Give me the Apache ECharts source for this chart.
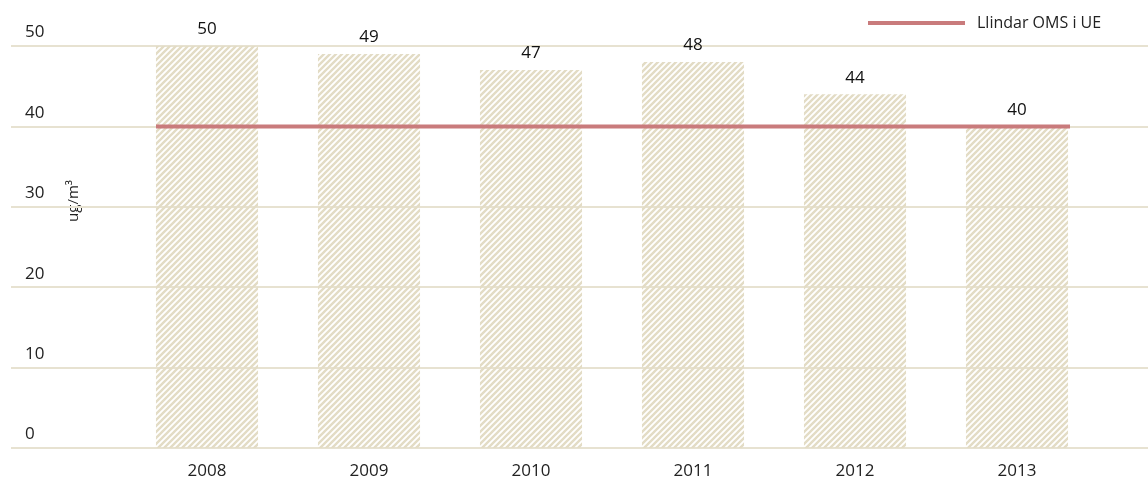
<!DOCTYPE html>
<html>
<head>
<meta charset="utf-8">
<script src="https://cdn.jsdelivr.net/npm/echarts@6/dist/echarts.min.js"></script>
<style>
  html, body { margin: 0; padding: 0; background: #fff; }
  #chart { width: 1148px; height: 482px; }
</style>
</head>
<body>
<div id="chart"></div>
<script>
// dades
var years = ['2008', '2009', '2010', '2011', '2012', '2013'];
var no2 = [50, 49, 47, 48, 44, 40];
var llindar = [40, 40, 40, 40, 40, 40];
var yTicks = [0, 10, 20, 30, 40, 50];

// ratllat dels bars
function hatch() {
  var n = 6;
  var c = document.createElement('canvas');
  c.width = n; c.height = n;
  var ctx = c.getContext('2d');
  ctx.strokeStyle = '#e3dcc5';
  ctx.lineWidth = 2.4;
  ctx.beginPath();
  ctx.moveTo(-1, n + 1); ctx.lineTo(n + 1, -1);
  ctx.moveTo(-1, 1); ctx.lineTo(1, -1);
  ctx.moveTo(n - 1, n + 1); ctx.lineTo(n + 1, n - 1);
  ctx.stroke();
  return c;
}

var font = '"Open Sans", sans-serif';
var myChart = echarts.init(document.getElementById('chart'));
myChart.setOption({
  animation: false,
  textStyle: { fontFamily: font },
  legend: {
    data: ['Llindar OMS i UE'],
    left: 868,
    top: 15,
    padding: 0,
    icon: 'rect',
    itemWidth: 97,
    itemHeight: 4,
    textStyle: { fontSize: 16, color: '#222', padding: [0, 0, 0, 7] }
  },
  grid: [
    { left: 11, right: 0, top: 46, bottom: 34 },
    { left: 126, right: 50, top: 46, bottom: 34 },
    { left: 156, right: 78, top: 46, bottom: 34 }
  ],
  xAxis: [
    { gridIndex: 0, type: 'value', show: false },
    {
      gridIndex: 1, type: 'category', data: years,
      axisLine: { show: false }, axisTick: { show: false },
      axisLabel: { color: '#222', fontSize: 17, margin: 15 }
    },
    { gridIndex: 2, type: 'category', data: years, boundaryGap: false, show: false }
  ],
  yAxis: [
    {
      gridIndex: 0, type: 'value', min: yTicks[0], max: yTicks[yTicks.length - 1], interval: 10,
      axisLine: { show: false }, axisTick: { show: false },
      splitLine: { lineStyle: { color: '#e7e2d1', width: 2 } },
      axisLabel: {
        inside: true, margin: 14, align: 'left', verticalAlign: 'bottom',
        color: '#222', fontSize: 17, padding: [0, 0, 5, 0]
      }
    },
    { gridIndex: 1, type: 'value', min: 0, max: 50, show: false },
    { gridIndex: 2, type: 'value', min: 0, max: 50, show: false }
  ],
  graphic: [{
    type: 'text',
    left: 66,
    top: 180,
    rotation: Math.PI / 2,
    style: { text: 'ug/m³', fontSize: 15, fill: '#222', fontFamily: font }
  }],
  series: [
    {
      name: 'NO2',
      type: 'bar',
      xAxisIndex: 1,
      yAxisIndex: 1,
      barWidth: '63%',
      data: no2,
      itemStyle: { color: { image: hatch(), repeat: 'repeat' } },
      label: { show: true, position: 'top', distance: 8, color: '#111', fontSize: 17 }
    },
    {
      name: 'Llindar OMS i UE',
      type: 'line',
      xAxisIndex: 2,
      yAxisIndex: 2,
      data: llindar,
      symbol: 'none',
      z: 5,
      color: '#c97b7c',
      lineStyle: { color: '#c97b7c', width: 4 }
    }
  ]
});
</script>
</body>
</html>
